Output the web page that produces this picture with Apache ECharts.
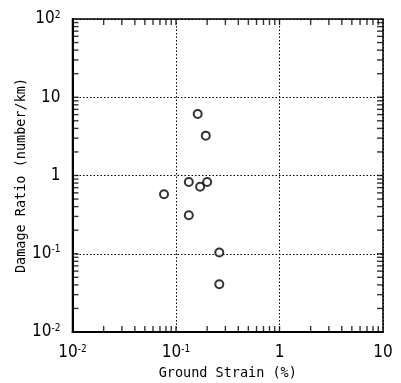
<!DOCTYPE html>
<html><head><meta charset="utf-8">
<script src="https://cdn.jsdelivr.net/npm/echarts@6/dist/echarts.min.js"></script>
<style>html,body{margin:0;padding:0;background:#fff}#c{width:401px;height:383px}</style>
</head><body><div id="c"></div>
<script>
// Data
const strain = [0.162, 0.194, 0.133, 0.171, 0.200, 0.0766, 0.133, 0.262, 0.262];
const damage = [6.1, 3.23, 0.826, 0.72, 0.826, 0.575, 0.31, 0.104, 0.0407];
const xDecades = [0.01, 0.1, 1];
const yDecades = [0.01, 0.1, 1, 10];
const mult = [1,2,3,4,5,6,7,8,9];
const xMin = 0.01, xMax = 10, yMin = 0.01, yMax = 100;

const pts = strain.map((x,i)=>[x, damage[i]]);
const xt = [], yt = [];
xDecades.forEach(d=>mult.forEach(m=>{ const v=d*m; if(v>xMin && v<xMax) xt.push(v); }));
yDecades.forEach(d=>mult.forEach(m=>{ const v=d*m; if(v>yMin && v<yMax) yt.push(v); }));

function lab(v){
  const e = Math.round(Math.log10(v));
  if (e===0) return '{b|1}';
  if (e===1) return '{b|10}';
  return '{b|10}{s|' + e + '}';
}
const FONT = "'Liberation Sans Narrow', 'DejaVu Sans Condensed', 'Roboto Condensed', 'Liberation Sans', sans-serif";
const rich = {
  b:{fontFamily:FONT, fontSize:17, color:'#000'},
  s:{fontFamily:FONT, fontSize:10, color:'#000', padding:[0,0,8,0]}
};
const tickStyle = {color:'#000'};
function tickSeries(data, size, offset){
  return {type:'scatter', data:data, symbol:'rect', symbolSize:size, symbolOffset:offset,
    itemStyle:tickStyle, silent:true, clip:false, z:5, animation:false};
}
const chart = echarts.init(document.getElementById('c'));
chart.setOption({
  animation:false,
  grid:{left:72.5, right:18, top:19, bottom:51, show:true, borderColor:'#000', borderWidth:1.5,
        outerBoundsMode:'none', containLabel:false},
  xAxis:{type:'log', logBase:10, min:xMin, max:xMax, interval:1,
    name:'Ground Strain (%)', nameLocation:'middle', nameGap:34, nameMoveOverlap:false,
    nameTextStyle:{fontFamily:'DejaVu Sans Mono', fontSize:13.5, color:'#000'},
    axisLine:{show:true, lineStyle:{color:'#000', width:2}},
    axisTick:{show:false},
    axisLabel:{formatter:lab, rich:rich, margin:12},
    splitLine:{show:true, lineStyle:{color:'#000', type:[1.5,2], width:1}}},
  yAxis:{type:'log', logBase:10, min:yMin, max:yMax, interval:1,
    name:'Damage Ratio (number/km)', nameLocation:'middle', nameGap:44, nameMoveOverlap:false,
    nameTextStyle:{fontFamily:'DejaVu Sans Mono', fontSize:13.5, color:'#000'},
    axisLine:{show:true, lineStyle:{color:'#000', width:2}},
    axisTick:{show:false},
    axisLabel:{formatter:lab, rich:rich, margin:12},
    splitLine:{show:true, lineStyle:{color:'#000', type:[1.5,2], width:1}}},
  series:[
    tickSeries(xt.map(v=>[v,yMin]), [1.4,6], [0,-3]),
    tickSeries(xt.map(v=>[v,yMax]), [1.4,6], [0,3]),
    tickSeries(yt.map(v=>[xMin,v]), [6,1.4], [3,0]),
    tickSeries(yt.map(v=>[xMax,v]), [6,1.4], [-3,0]),
    {type:'scatter', data:pts, symbol:'circle', symbolSize:8,
     itemStyle:{color:'#fff', borderColor:'#000', borderWidth:2}, z:10, clip:false}
  ]
});
</script></body></html>
